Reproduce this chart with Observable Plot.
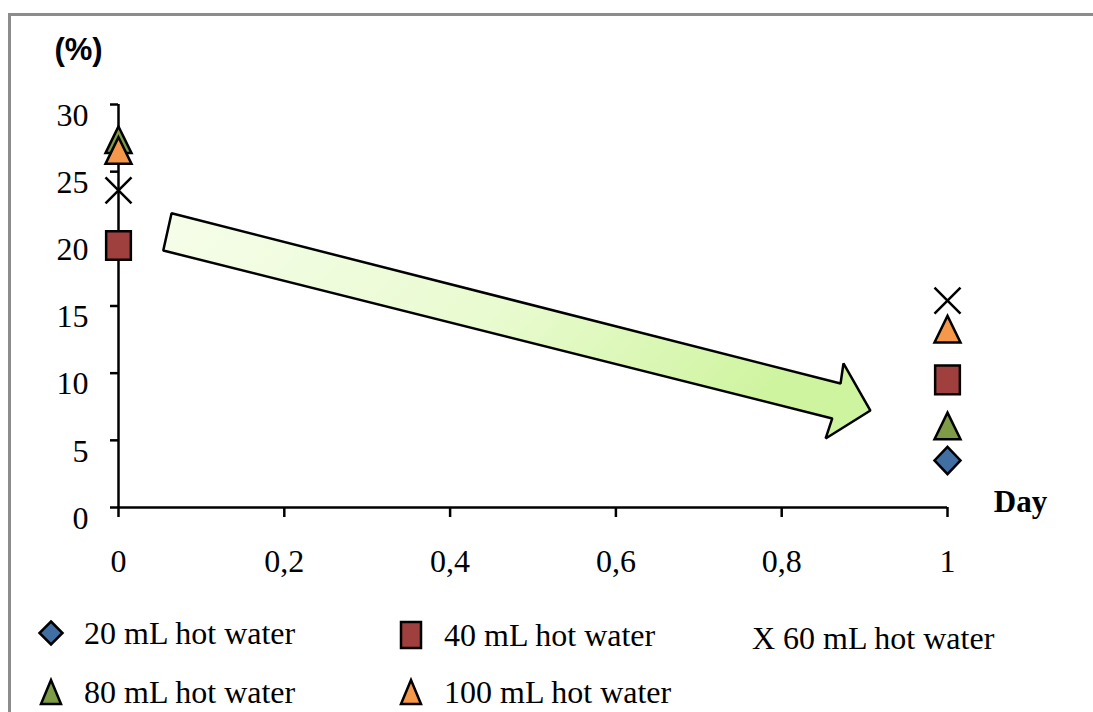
<!DOCTYPE html>
<html>
<head>
<meta charset="utf-8">
<script src="https://cdn.jsdelivr.net/npm/d3@7"></script>
<script src="https://cdn.jsdelivr.net/npm/@observablehq/plot@0.6"></script>
<style>
  html, body { margin: 0; padding: 0; background: #fff; }
  #wrap { position: relative; width: 1093px; height: 712px; overflow: hidden; font-family: "Liberation Serif", "Times New Roman", serif; }
  #border { position: absolute; left: 8px; top: 13px; width: 1200px; height: 800px; border: 3px solid #8c8c8c; box-sizing: border-box; }
  #chart { position: absolute; left: 0; top: 0; }
  #legend { position: absolute; left: 0; top: 600px; width: 1093px; height: 112px; }
  .li { position: absolute; display: flex; align-items: center; font-size: 32px; color: #000; white-space: nowrap; }
  .li svg { margin-right: 19px; }
</style>
</head>
<body>
<div id="wrap">
  <div id="border"></div>
  <div id="chart"></div>
  <div id="legend"></div>
</div>
<script>
// ---- data ----
const series = ["20 mL hot water", "40 mL hot water", "60 mL hot water", "80 mL hot water", "100 mL hot water"];
const seriesColors = ["#416fa4", "#a0403e", "none", "#7e9b46", "#f6984a"];
const seriesSymbols = ["diamond", "square", "x", "triangle", "triangle"];
const day0Values = [null, 19.5, 23.6, 27.3, 26.5];
const day1Values = [3.5, 9.5, 15.4, 6.0, 13.2];
const xTicks = [0, 0.2, 0.4, 0.6, 0.8, 1];
const yTicks = [0, 5, 10, 15, 20, 25, 30];
// arrow annotation outline in data units (day, %)
const arrowX = [0.064, 0.871, 0.8745, 0.907, 0.853, 0.861, 0.054];
const arrowY = [21.9, 9.23, 10.72, 7.22, 5.14, 6.63, 19.13];

// ---- build table ----
const points = [];
series.forEach((s, i) => {
  if (day0Values[i] != null) points.push({series: s, i, day: 0, value: day0Values[i]});
  if (day1Values[i] != null) points.push({series: s, i, day: 1, value: day1Values[i]});
});
const arrow = arrowX.map((x, k) => ({x, y: arrowY[k]}));

// custom symbols (size = r^2 * pi)
function mk(fn) { return {draw(ctx, size) { const r = Math.sqrt(size / Math.PI); fn(ctx, r); }}; }
const symbolDefs = {
  diamond: mk((c, r) => { c.moveTo(0, -r * 1.05); c.lineTo(r, 0); c.lineTo(0, r * 1.05); c.lineTo(-r, 0); c.closePath(); }),
  square: mk((c, r) => { c.moveTo(-r * 0.95, -r * 1.1); c.lineTo(r * 0.95, -r * 1.1); c.lineTo(r * 0.95, r * 1.1); c.lineTo(-r * 0.95, r * 1.1); c.closePath(); }),
  triangle: mk((c, r) => { c.moveTo(0, -r * 1.1); c.lineTo(r, r * 0.95); c.lineTo(-r, r * 0.95); c.closePath(); }),
  x: mk((c, r) => { c.moveTo(-r, -r); c.lineTo(r, r); c.moveTo(r, -r); c.lineTo(-r, r); })
};

const serif = "Liberation Serif, Times New Roman, serif";

const defsMark = () => {
  const ns = "http://www.w3.org/2000/svg";
  const defs = document.createElementNS(ns, "defs");
  const g = document.createElementNS(ns, "linearGradient");
  g.setAttribute("id", "arrowGrad");
  g.setAttribute("x1", "0"); g.setAttribute("y1", "0"); g.setAttribute("x2", "1"); g.setAttribute("y2", "0.3");
  [["0", "#f6fdea"], ["0.55", "#e9fbd0"], ["1", "#cff4a0"]].forEach(([o, c]) => {
    const st = document.createElementNS(ns, "stop");
    st.setAttribute("offset", o); st.setAttribute("stop-color", c);
    g.appendChild(st);
  });
  defs.appendChild(g);
  return defs;
};

const chart = Plot.plot({
  width: 1093,
  height: 600,
  marginLeft: 118,
  marginRight: 146,
  marginTop: 104,
  marginBottom: 93,
  style: {fontFamily: serif, fontSize: "32px", color: "#000", background: "transparent"},
  x: {domain: [0, 1], axis: null},
  y: {domain: [0, 30], axis: null},
  symbol: {domain: series, range: series.map((s, i) => symbolDefs[seriesSymbols[i]])},
  marks: [
    defsMark,
    // axes
    Plot.axisY({ticks: yTicks, tickSize: 8, strokeWidth: 2.5, tickFormat: () => "", label: null}),
    Plot.axisX({ticks: xTicks, tickSize: 10, strokeWidth: 2.5, tickFormat: () => "", label: null}),
    Plot.ruleX([0], {y1: 0, y2: 30, strokeWidth: 2.5, stroke: "#000"}),
    Plot.ruleY([0], {x1: 0, x2: 1, strokeWidth: 2.5, stroke: "#000"}),
    Plot.text(yTicks, {x: 0, y: d => d, text: d => String(d), dx: -30, dy: 11, textAnchor: "end", fontSize: 32, fontFamily: serif}),
    Plot.text(xTicks, {x: d => d, y: 0, text: d => String(d).replace(".", ","), dy: 54, fontSize: 32, fontFamily: serif}),
    Plot.text(["(%)"], {frameAnchor: "top-left", dx: -40, dy: -54, textAnchor: "middle", lineAnchor: "middle", fontFamily: "Liberation Sans, Arial, sans-serif", fontWeight: "bold", fontSize: 31}),
    Plot.text(["Day"], {frameAnchor: "bottom-right", dx: 73, dy: -5, textAnchor: "middle", lineAnchor: "middle", fontFamily: serif, fontWeight: "bold", fontSize: 31}),
    // arrow annotation
    Plot.line(arrow, {x: "x", y: "y", curve: "linear-closed", fill: "url(#arrowGrad)", stroke: "#000", strokeWidth: 2.5, strokeLinejoin: "miter"}),
    // points
    Plot.dot(points.filter(d => seriesSymbols[d.i] !== "x"), {
      x: "day", y: "value", symbol: "series", r: 13,
      fill: d => seriesColors[d.i], stroke: "#000", strokeWidth: 2.5
    }),
    Plot.dot(points.filter(d => seriesSymbols[d.i] === "x"), {
      x: "day", y: "value", symbol: "series", r: 13,
      fill: "none", stroke: "#000", strokeWidth: 2.5
    })
  ]
});
document.getElementById("chart").appendChild(chart);

// ---- legend (HTML) ----
const legendPos = [[37, 33], [397, 35], [752, 38], [37, 92], [397, 92]];
const legend = document.getElementById("legend");
series.forEach((s, i) => {
  const div = document.createElement("div");
  div.className = "li";
  div.style.left = legendPos[i][0] + "px";
  div.style.top = (legendPos[i][1] - 20) + "px";
  div.style.height = "40px";
  const sym = seriesSymbols[i];
  if (sym === "x") {
    div.textContent = "X " + s;
  } else {
    const ns = "http://www.w3.org/2000/svg";
    const svg = document.createElementNS(ns, "svg");
    svg.setAttribute("width", 28); svg.setAttribute("height", 30);
    const p = document.createElementNS(ns, "path");
    let d;
    if (sym === "diamond") d = "M14,3.5 L25.5,15 L14,26.5 L2.5,15 Z";
    else if (sym === "square") d = "M4,2 L24,2 L24,28 L4,28 Z";
    else d = "M14,3 L24,27 L4,27 Z";
    p.setAttribute("d", d);
    p.setAttribute("fill", seriesColors[i]);
    p.setAttribute("stroke", "#000");
    p.setAttribute("stroke-width", 2.5);
    svg.appendChild(p);
    div.appendChild(svg);
    div.appendChild(document.createTextNode(s));
  }
  legend.appendChild(div);
});
</script>
</body>
</html>
